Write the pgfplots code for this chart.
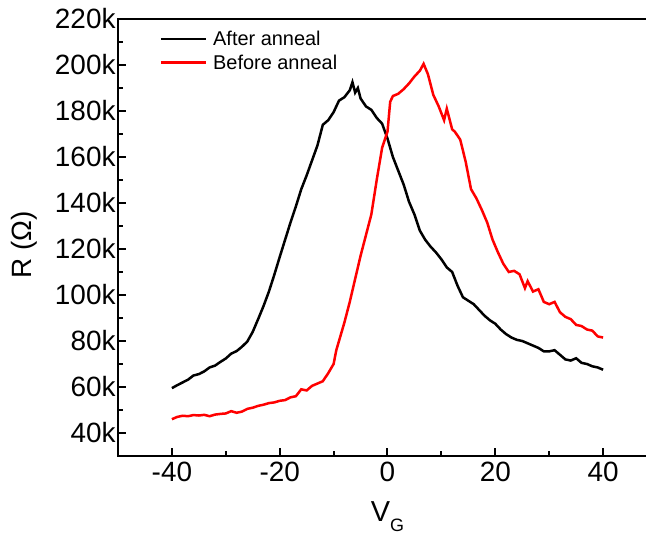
\documentclass[border=0pt]{standalone}
\usepackage{fontspec}
\setmainfont{Liberation Sans}
\usepackage{pgfplots}
\pgfplotsset{compat=1.18}
\begin{document}
\begin{tikzpicture}
\begin{axis}[
  scale only axis,
  width=539bp, height=437bp,
  xmin=-50, xmax=50, ymin=30, ymax=220,
  xtick={-40,-20,0,20,40},
  ytick={40,60,80,100,120,140,160,180,200,220},
  minor xtick={-30,-10,10,30},
  minor ytick={50,70,90,110,130,150,170,190,210},
  xtick pos=bottom, ytick pos=left,
  tick align=inside,
  major tick length=8bp, minor tick length=5bp,
  every tick/.style={black, line width=2bp},
  every minor tick/.style={black, line width=2bp},
  axis line style={line width=2.2bp},
  /pgf/number format/assume math mode=true,
  ticklabel style={font=\fontsize{28}{32}\selectfont},
  yticklabel={\pgfmathprintnumber{\tick}k},
  xticklabel style={yshift=-3bp},
  yticklabel style={xshift=1bp},
  xlabel={{\fontsize{29}{32}\selectfont V}\raisebox{-10bp}{\fontsize{18}{20}\selectfont G}},
  xlabel style={at={(axis description cs:0.5,-0.151)}, anchor=base},
  ylabel={R (Ω)},
  ylabel style={font=\fontsize{28}{32}\selectfont, at={(axis description cs:-0.1744,0.484)}, anchor=center},
  legend cell align=left,
  legend image code/.code={\draw[#1] (0bp,0bp) -- (45bp,0bp); \path (49bp,0bp);},
  legend style={draw=none, fill=none, at={(axis description cs:0.077,0.978)}, anchor=north west,
    font=\fontsize{20}{24}\selectfont, row sep=4bp, inner sep=0pt},
]
\addplot[black, line width=2.5bp] coordinates {
(-40,59.5)(-39,60.8)(-38,62.0)(-37,63.2)(-36,65.0)(-35,65.6)(-34,66.8)(-33,68.5)(-32,69.3)(-31,70.9)
(-30,72.4)(-29,74.5)(-28,75.6)(-27,77.5)(-26,79.8)(-25,84.0)(-24,89.5)(-23,95.2)(-22,101.5)(-21,108.8)
(-20,116.5)(-19,124.0)(-18,131.5)(-17,138.5)(-16,146.0)(-15,152.0)(-14,158.5)(-13,165.0)(-12,174.0)(-11,176.0)
(-10,179.5)(-9,184.5)(-8,186.0)(-7,189.0)(-6.5,192.5)(-6,188.0)(-5.5,190.0)(-5,185.5)(-4,182.0)(-3,180.5)
(-2,177.0)(-1,174.5)(0,168.0)(1,160.0)(2,154.0)(3,148.0)(4,140.5)(5,135.0)(6,128.0)(7,124.0)
(8,121.0)(9,118.5)(10,115.5)(11,112.0)(12,110.0)(13,104.0)(14,99.0)(15,97.5)(16,96.0)(17,93.5)
(18,91.0)(19,89.0)(20,87.5)(21,85.0)(22,83.0)(23,81.5)(24,80.5)(25,80.0)(26,79.0)(27,78.0)
(28,77.0)(29,75.5)(30,75.5)(31,76.0)(32,74.0)(33,72.0)(34,71.5)(35,72.5)(36,70.5)(37,70.0)
(38,69.0)(39,68.5)(40,67.5)
};
\addlegendentry{After anneal}
\addplot[red, line width=2.5bp] coordinates {
(-40,46.0)(-39,47.0)(-38,47.5)(-37,47.3)(-36,47.8)(-35,47.6)(-34,47.9)(-33,47.3)(-32,48.0)(-31,48.3)
(-30,48.5)(-29,49.5)(-28,48.8)(-27,49.3)(-26,50.5)(-25,51.0)(-24,51.8)(-23,52.3)(-22,53.0)(-21,53.3)
(-20,54.0)(-19,54.3)(-18,55.5)(-17,56.0)(-16,59.0)(-15,58.5)(-14,60.5)(-13,61.5)(-12,62.5)(-11,66.0)
(-10,70.0)(-9.5,76.0)(-9,80.0)(-8,88.0)(-7,97.0)(-6,107.0)(-5,117.0)(-4,126.0)(-3,135.0)(-2,150.0)(-1,164.0)
(0,171.0)(0.5,184.0)(1,186.5)(2,187.5)(3,189.5)(4,192.0)(5,195.0)(6,197.5)(6.7,200.5)(7.5,196.0)
(8.5,187.0)(9.5,182.0)(10.5,176.0)(11,181.0)(12,172.0)(12.5,171.0)(13.5,167.5)(14.5,158.0)(15.5,146.0)(16.5,142.0)
(17.5,137.0)(18.5,131.5)(19.5,124.0)(20.5,118.5)(21.5,113.5)(22.5,110.0)(23.5,110.5)(24.5,109.0)(25.5,103.0)(26,106.0)
(27,101.5)(28,102.5)(29,97.0)(30,96.0)(31,97.0)(32,92.5)(33,90.5)(34,89.5)(35,87.0)(36,86.5)
(37,85.0)(38,84.5)(39,82.0)(40,81.5)
};
\addlegendentry{Before anneal}
\end{axis}
\pgfresetboundingbox
\useasboundingbox (-118bp,-82bp) rectangle (528bp,456bp);
\end{tikzpicture}
\end{document}
